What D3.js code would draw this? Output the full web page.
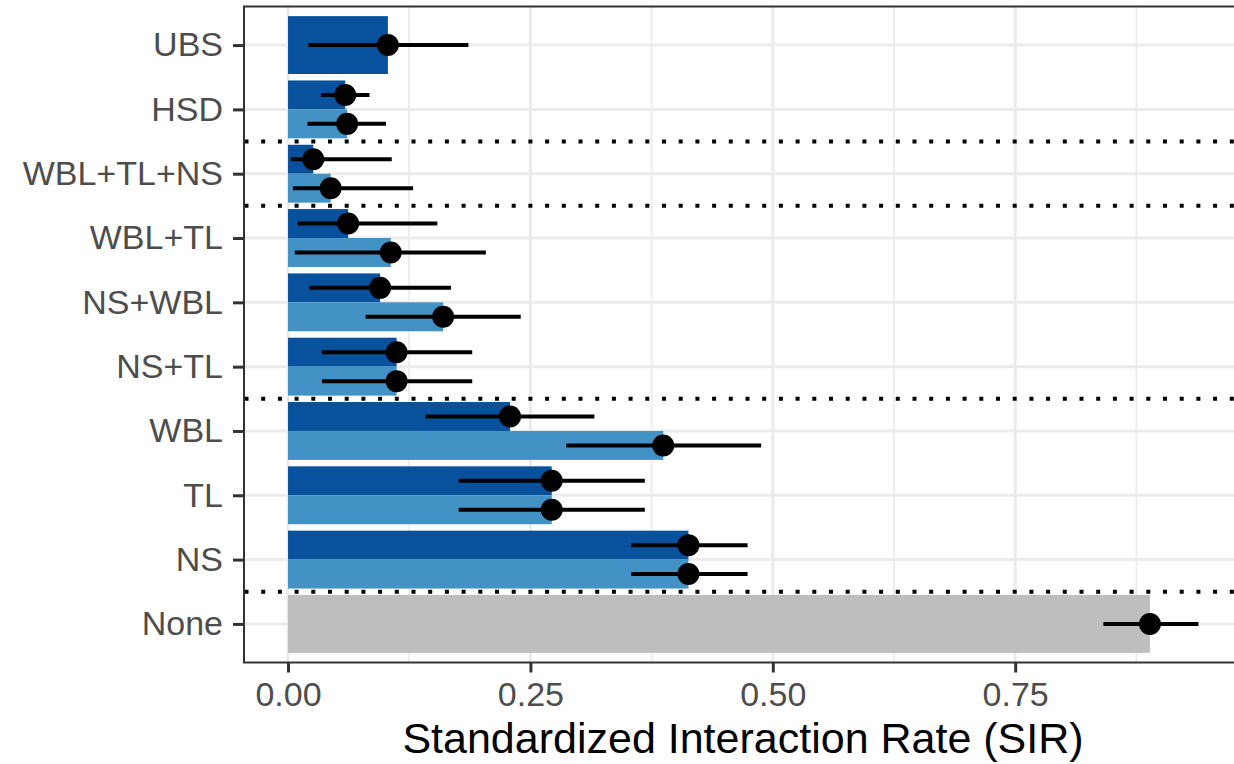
<!DOCTYPE html>
<html>
<head>
<meta charset="utf-8">
<script src="https://cdn.jsdelivr.net/npm/d3@7"></script>
<style>
  body { margin: 0; background: #fff; }
  svg { display: block; font-family: "Liberation Sans", Arial, sans-serif; }
</style>
</head>
<body>
<div class="chart"></div>
<script>
// categories top to bottom
var categories = ["UBS", "HSD", "WBL+TL+NS", "WBL+TL", "NS+WBL", "NS+TL", "WBL", "TL", "NS", "None"];

// dark series (first of each pair)
var darkSIR = [0.103, 0.059, 0.026, 0.062, 0.095, 0.112, 0.229, 0.272, 0.413, null];
var darkLo  = [0.021, 0.034, 0.003, 0.010, 0.022, 0.035, 0.142, 0.176, 0.354, null];
var darkHi  = [0.186, 0.084, 0.107, 0.154, 0.168, 0.190, 0.316, 0.368, 0.474, null];

// light series (second of each pair)
var lightSIR = [null, 0.061, 0.044, 0.106, 0.160, 0.112, 0.387, 0.272, 0.413, null];
var lightLo  = [null, 0.020, 0.005, 0.007, 0.080, 0.035, 0.287, 0.176, 0.354, null];
var lightHi  = [null, 0.101, 0.129, 0.204, 0.240, 0.190, 0.488, 0.368, 0.474, null];

// reference group
var noneSIR = [null, null, null, null, null, null, null, null, null, 0.889];
var noneLo  = [null, null, null, null, null, null, null, null, null, 0.841];
var noneHi  = [null, null, null, null, null, null, null, null, null, 0.939];

// dotted separators go below these categories
var separatorAfter = ["HSD", "WBL+TL+NS", "NS+TL", "NS"];

var xTicks = [0, 0.25, 0.5, 0.75];
var xMinor = [0.125, 0.375, 0.625, 0.875];

var svgWidth = 1234;
var svgHeight = 764;

var panel = { left: 244, right: 1244, top: 6.5, bottom: 662.5 };

var svg = d3.select(".chart")
  .append("svg")
  .attr("width", svgWidth)
  .attr("height", svgHeight);

var x = d3.scaleLinear()
  .domain([-0.0454, 0.986])
  .range([panel.left, panel.right]);

var y = d3.scalePoint()
  .domain(categories)
  .range([panel.top, panel.bottom])
  .padding(0.6);

var step = y.step();
var barH = step * 0.9;

// build rows: one per drawn bar
var series = [
  { name: "dark", color: "#08519c", v: darkSIR, lo: darkLo, hi: darkHi },
  { name: "light", color: "#4292c6", v: lightSIR, lo: lightLo, hi: lightHi },
  { name: "none", color: "#bebebe", v: noneSIR, lo: noneLo, hi: noneHi }
];

var rows = [];
categories.forEach(function(cat, i) {
  var present = series.filter(function(s) { return s.v[i] != null; });
  var n = present.length;
  present.forEach(function(s, j) {
    var h = barH / n;
    var top = y(cat) - barH / 2 + j * h;
    rows.push({ cat: cat, color: s.color, v: s.v[i], lo: s.lo[i], hi: s.hi[i], top: top, h: h });
  });
});

// grid
var grid = svg.append("g");
grid.selectAll(".minor")
  .data(xMinor)
  .enter()
  .append("line")
  .attr("x1", function(d) { return x(d); })
  .attr("x2", function(d) { return x(d); })
  .attr("y1", panel.top)
  .attr("y2", panel.bottom)
  .attr("stroke", "#ebebeb")
  .attr("stroke-width", 1.8);

grid.selectAll(".major")
  .data(xTicks)
  .enter()
  .append("line")
  .attr("x1", function(d) { return x(d); })
  .attr("x2", function(d) { return x(d); })
  .attr("y1", panel.top)
  .attr("y2", panel.bottom)
  .attr("stroke", "#ebebeb")
  .attr("stroke-width", 3);

grid.selectAll(".hmajor")
  .data(categories)
  .enter()
  .append("line")
  .attr("x1", panel.left)
  .attr("x2", panel.right)
  .attr("y1", function(d) { return y(d); })
  .attr("y2", function(d) { return y(d); })
  .attr("stroke", "#ebebeb")
  .attr("stroke-width", 3);

// bars
svg.selectAll(".bar")
  .data(rows)
  .enter()
  .append("rect")
  .attr("x", x(0))
  .attr("y", function(d) { return d.top; })
  .attr("width", function(d) { return x(d.v) - x(0); })
  .attr("height", function(d) { return d.h; })
  .attr("fill", function(d) { return d.color; });

// dotted separators
svg.selectAll(".sep")
  .data(separatorAfter)
  .enter()
  .append("line")
  .attr("x1", panel.left + 0.5)
  .attr("x2", panel.right)
  .attr("y1", function(d) { return y(d) + step / 2; })
  .attr("y2", function(d) { return y(d) + step / 2; })
  .attr("stroke", "#000")
  .attr("stroke-width", 4)
  .attr("stroke-dasharray", "4,12.7");

// error bars
svg.selectAll(".err")
  .data(rows)
  .enter()
  .append("line")
  .attr("x1", function(d) { return x(d.lo); })
  .attr("x2", function(d) { return x(d.hi); })
  .attr("y1", function(d) { return d.top + d.h / 2; })
  .attr("y2", function(d) { return d.top + d.h / 2; })
  .attr("stroke", "#000")
  .attr("stroke-width", 4);

svg.selectAll(".pt")
  .data(rows)
  .enter()
  .append("circle")
  .attr("cx", function(d) { return x(d.v); })
  .attr("cy", function(d) { return d.top + d.h / 2; })
  .attr("r", 11)
  .attr("fill", "#000");

// panel border
svg.append("rect")
  .attr("x", panel.left)
  .attr("y", panel.top)
  .attr("width", panel.right - panel.left)
  .attr("height", panel.bottom - panel.top)
  .attr("fill", "none")
  .attr("stroke", "#333")
  .attr("stroke-width", 2);

// axes
var xAxis = svg.append("g")
  .attr("transform", "translate(0," + panel.bottom + ")")
  .call(d3.axisBottom(x).tickValues(xTicks).tickFormat(d3.format(".2f")).tickSize(10).tickPadding(9));

var yAxis = svg.append("g")
  .attr("transform", "translate(" + panel.left + ",0)")
  .call(d3.axisLeft(y).tickSize(11).tickPadding(10));

[xAxis, yAxis].forEach(function(a) {
  a.select(".domain").remove();
  a.selectAll(".tick line").attr("stroke", "#333").attr("stroke-width", 3);
  a.selectAll(".tick text")
    .attr("fill", "#4d4d4d")
    .style("font-size", "34px")
    .style("font-family", "'Liberation Sans', Arial, sans-serif");
});

svg.append("text")
  .attr("x", (panel.left + panel.right) / 2 - 1)
  .attr("y", 753)
  .attr("text-anchor", "middle")
  .style("font-size", "43px")
  .attr("fill", "#000")
  .text("Standardized Interaction Rate (SIR)");
</script>
</body>
</html>
